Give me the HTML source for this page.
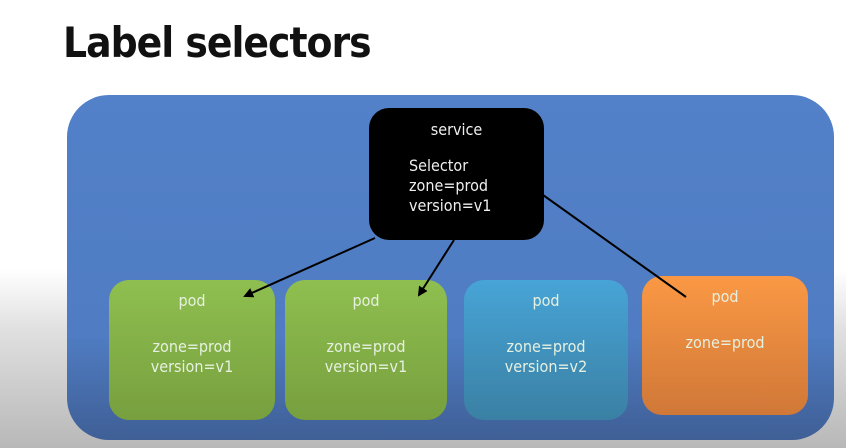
<!DOCTYPE html>
<html><head><style>
body{margin:0;width:846px;height:448px;overflow:hidden;background:linear-gradient(#fff 0,#fff 270px,#e0e0e0 330px,#b8b8b8 448px);font-family:"DejaVu Sans Condensed","Liberation Sans",sans-serif;position:relative}
.t{position:absolute;left:63px;top:18px;font:bold 42px "DejaVu Sans Condensed","Liberation Sans",sans-serif;color:#111;letter-spacing:-1px}
.outer{position:absolute;left:67px;top:95px;width:767px;height:345px;border-radius:42px;background:linear-gradient(#5381c9,#4f7cc2 70%,#3f5f96)}
.b{position:absolute;border-radius:20px;color:#e6f0e0;font-size:16px;line-height:20px}
.svc{left:369px;top:108px;width:175px;height:132px;background:#000;color:#eee}
.pod{top:280px;width:166px;height:140px;text-align:center}
.pod .h{margin-top:11px}
.pod .c{margin-top:26px}
svg{position:absolute;left:0;top:0}
</style></head><body>
<div class="t">Label selectors</div>
<div class="outer"></div>
<div class="b svc"><div style="text-align:center;margin-top:12px">service</div><div style="margin:16px 0 0 40px">Selector<br>zone=prod<br>version=v1</div></div>
<div class="b pod" style="left:109px;background:linear-gradient(#8fbf50,#779f3e)"><div class="h">pod</div><div class="c">zone=prod<br>version=v1</div></div>
<div class="b pod" style="left:285px;width:162px;background:linear-gradient(#8fbf50,#779f3e)"><div class="h">pod</div><div class="c">zone=prod<br>version=v1</div></div>
<div class="b pod" style="left:464px;width:164px;background:linear-gradient(#47a4d6,#3a80a4)"><div class="h">pod</div><div class="c">zone=prod<br>version=v2</div></div>
<div class="b pod" style="left:642px;top:276px;height:139px;background:linear-gradient(#fa9844,#d07838)"><div class="h">pod</div><div class="c" style="margin-top:26px">zone=prod</div></div>
<svg width="846" height="448"><defs><marker id="a" markerWidth="10" markerHeight="10" refX="8" refY="5" orient="auto" markerUnits="userSpaceOnUse"><path d="M0,0L10,5L0,10z" fill="#000"/></marker></defs>
<line x1="375" y1="238" x2="245" y2="296" stroke="#000" stroke-width="2" marker-end="url(#a)"/>
<line x1="454" y1="240" x2="419" y2="295" stroke="#000" stroke-width="2" marker-end="url(#a)"/>
<line x1="543" y1="195" x2="686" y2="297" stroke="#000" stroke-width="2"/>
</svg>
</body></html>
